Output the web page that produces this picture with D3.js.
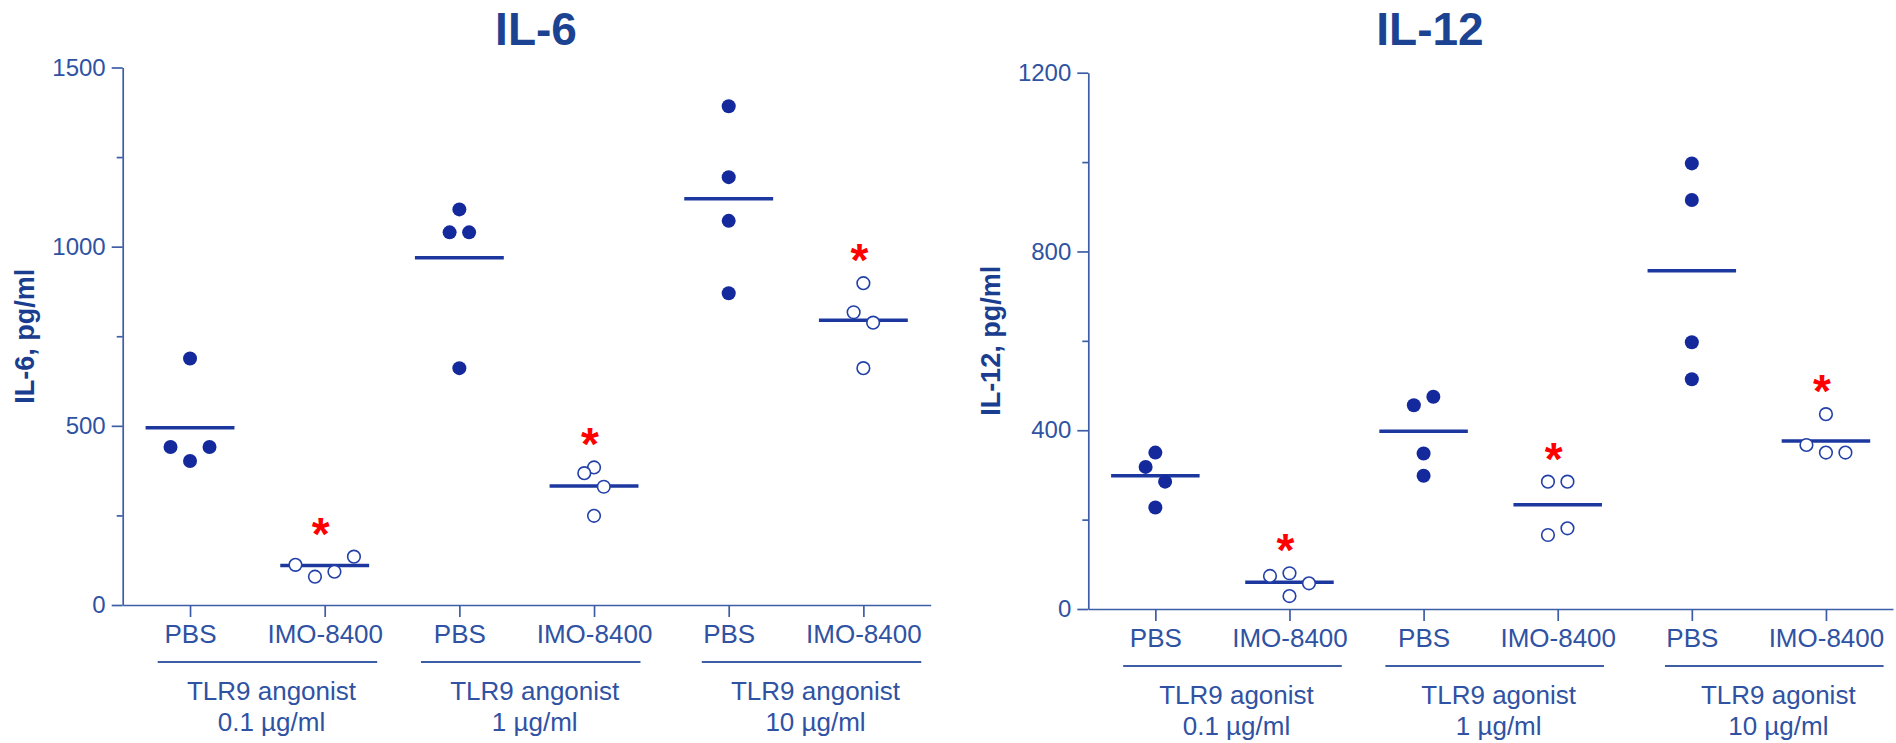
<!DOCTYPE html>
<html>
<head>
<meta charset="utf-8">
<script src="https://cdn.jsdelivr.net/npm/d3@7"></script>
<style>
  html, body { margin: 0; padding: 0; background: #ffffff; }
  svg { display: block; font-family: "Liberation Sans", Arial, Helvetica, sans-serif; }
</style>
</head>
<body>
<svg id="chart" width="1896" height="743"></svg>
<script>
// ---------------- DATA ----------------
const categories = ["PBS", "IMO-8400", "PBS", "IMO-8400", "PBS", "IMO-8400"];

const il6Groups = [["TLR9 angonist", "0.1 \u00b5g/ml"], ["TLR9 angonist", "1 \u00b5g/ml"], ["TLR9 angonist", "10 \u00b5g/ml"]];
const il12Groups = [["TLR9 agonist", "0.1 \u00b5g/ml"], ["TLR9 agonist", "1 \u00b5g/ml"], ["TLR9 agonist", "10 \u00b5g/ml"]];

const il6Values = [
  [688, 441, 441, 402],
  [112, 79, 93, 135],
  [1104, 1040, 1040, 661],
  [384, 368, 330, 249],
  [1392, 1194, 1072, 870],
  [898, 817, 788, 661]
];
const il6Means = [495, 110, 969, 332, 1134, 795];
const il6Significant = [false, true, false, true, false, true];
const il6TicksMajor = [0, 500, 1000, 1500];
const il6TicksMinor = [250, 750, 1250];

const il12Values = [
  [350, 318, 285, 227],
  [80, 74, 57.5, 29],
  [475, 456, 348, 298],
  [285, 285, 180.5, 165.6],
  [997, 915, 597, 514],
  [436, 367, 350, 350]
];
const il12Means = [298, 60, 398, 233, 757, 376];
const il12Significant = [false, true, false, true, false, true];
const il12TicksMajor = [0, 400, 800, 1200];
const il12TicksMinor = [200, 600, 1000];

// jitter (layout only, in units of a dot spacing)
const il6Jitter = [[0, -1, 1, 0], [-1.5, -0.5, 0.5, 1.5], [0, -0.5, 0.5, 0], [0, -0.5, 0.5, 0], [0, 0, 0, 0], [0, -0.5, 0.5, 0]];
const il12Jitter = [[0, -0.5, 0.5, 0], [0, -1, 1, 0], [0.5, -0.5, 0, 0], [-0.5, 0.5, 0.5, -0.5], [0, 0, 0, 0], [0, -1, 0, 1]];

// ---------------- STYLE ----------------
const C = {
  title: "#1c4392",
  axis: "#3d5ea6",
  tickText: "#2f52a3",
  ylabel: "#1a3d8f",
  dot: "#14299c",
  mean: "#1c389f",
  open: "#2340a8",
  star: "#ff0000"
};

const svg = d3.select("#chart");

function drawPanel(cfg) {
  const g = svg.append("g");
  const x = d3.scalePoint().domain(d3.range(categories.length)).range([cfg.x0, cfg.x1]).padding(0.5);
  const y = d3.scaleLinear().domain([0, cfg.max]).range([cfg.yBottom, cfg.yTop]);
  const step = x.step();

  // title
  g.append("text").attr("x", cfg.titleX).attr("y", 45).attr("text-anchor", "middle")
    .attr("font-size", 46).attr("font-weight", "bold").attr("fill", C.title).text(cfg.title);

  // y label
  g.append("text")
    .attr("transform", `translate(${cfg.ylabelX},${(cfg.yTop + cfg.yBottom) / 2}) rotate(-90)`)
    .attr("text-anchor", "middle").attr("font-size", 27).attr("font-weight", "bold")
    .attr("fill", C.ylabel).text(cfg.ylabel);

  // y axis major
  const yAxis = d3.axisLeft(y).tickValues(cfg.major).tickSize(11).tickSizeOuter(0).tickPadding(6).tickFormat(d3.format("d"));
  const ya = g.append("g").attr("transform", `translate(${cfg.x0},0)`).call(yAxis);
  ya.select(".domain").attr("stroke", C.axis).attr("stroke-width", 1.7);
  ya.selectAll(".tick line").attr("stroke", C.axis).attr("stroke-width", 1.7);
  ya.selectAll(".tick text").attr("font-size", 24).attr("fill", C.tickText).attr("font-family", null);
  // y axis minor
  const yMinor = d3.axisLeft(y).tickValues(cfg.minor).tickSize(6).tickSizeOuter(0).tickFormat("");
  const ym = g.append("g").attr("transform", `translate(${cfg.x0},0)`).call(yMinor);
  ym.select(".domain").remove();
  ym.selectAll(".tick line").attr("stroke", C.axis).attr("stroke-width", 1.7);

  // x axis
  const xAxis = d3.axisBottom(x).tickSize(12).tickSizeOuter(0).tickPadding(8).tickFormat(i => categories[i]);
  const xa = g.append("g").attr("transform", `translate(0,${cfg.yBottom})`).call(xAxis);
  xa.select(".domain").attr("stroke", C.axis).attr("stroke-width", 1.7);
  xa.selectAll(".tick line").attr("stroke", C.axis).attr("stroke-width", 1.7);
  xa.selectAll(".tick text").attr("font-size", 26).attr("fill", C.tickText).attr("font-family", null);

  // group underline + labels
  const groupShift = [0.075, 0.03, 0.115];
  cfg.groups.forEach((lab, gi) => {
    const mid = (x(gi * 2) + x(gi * 2 + 1)) / 2 + groupShift[gi] * step;
    const half = step * 0.815;
    g.append("line").attr("x1", mid - half).attr("x2", mid + half)
      .attr("y1", cfg.yBottom + 57).attr("y2", cfg.yBottom + 57)
      .attr("stroke", C.axis).attr("stroke-width", 2.2);
    g.append("text").attr("x", mid + 4).attr("y", cfg.yBottom + 95).attr("text-anchor", "middle")
      .attr("font-size", 26).attr("fill", C.tickText).text(lab[0]);
    g.append("text").attr("x", mid + 4).attr("y", cfg.yBottom + 126).attr("text-anchor", "middle")
      .attr("font-size", 26).attr("fill", C.tickText).text(lab[1]);
  });

  // mean lines
  g.selectAll(".mean").data(cfg.means).enter().append("line")
    .attr("x1", (d, i) => x(i) - step * 0.33).attr("x2", (d, i) => x(i) + step * 0.33)
    .attr("y1", d => y(d)).attr("y2", d => y(d))
    .attr("stroke", C.mean).attr("stroke-width", 3.5);

  // points
  const pts = [];
  cfg.values.forEach((arr, gi) => arr.forEach((v, k) => pts.push({ gi, v, j: cfg.jitter[gi][k] })));
  const unit = 19.5;
  g.selectAll(".pt").data(pts).enter().append("circle")
    .attr("cx", d => x(d.gi) + d.j * unit)
    .attr("cy", d => y(d.v))
    .attr("r", d => d.gi % 2 === 0 ? 7 : 6.3)
    .attr("fill", d => d.gi % 2 === 0 ? C.dot : "#ffffff")
    .attr("stroke", d => d.gi % 2 === 0 ? "none" : C.open)
    .attr("stroke-width", 1.6);

  // significance asterisks
  cfg.values.forEach((arr, gi) => {
    if (!cfg.sig[gi]) return;
    const cy = y(d3.max(arr)) - 31;
    g.append("text").attr("x", x(gi) - 4).attr("y", cy + 24).attr("text-anchor", "middle")
      .attr("font-size", 46).attr("font-weight", "bold").attr("fill", C.star).text("*");
  });
}

drawPanel({
  title: "IL-6", titleX: 536, ylabel: "IL-6, pg/ml", ylabelX: 34,
  x0: 122.7, x1: 930.7, yTop: 67.5, yBottom: 605, max: 1500,
  major: il6TicksMajor, minor: il6TicksMinor,
  values: il6Values, means: il6Means, sig: il6Significant, jitter: il6Jitter, groups: il6Groups
});

drawPanel({
  title: "IL-12", titleX: 1430, ylabel: "IL-12, pg/ml", ylabelX: 1000,
  x0: 1088.3, x1: 1893, yTop: 72.7, yBottom: 609, max: 1200,
  major: il12TicksMajor, minor: il12TicksMinor,
  values: il12Values, means: il12Means, sig: il12Significant, jitter: il12Jitter, groups: il12Groups
});
</script>
</body>
</html>
